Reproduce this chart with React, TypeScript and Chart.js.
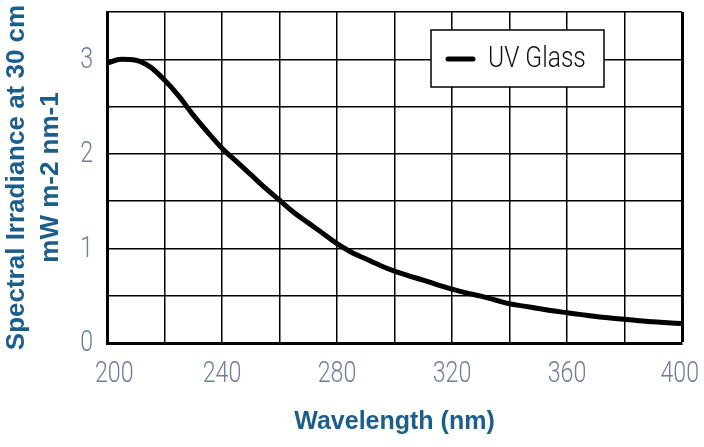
import React, { useEffect, useRef } from "react";
import { Chart, registerables } from "chart.js";

Chart.register(...registerables);

const WAVELENGTHS = [
  200, 205, 210, 215, 220, 225, 230, 235, 240, 245, 250, 255, 260, 265, 270, 275, 280, 285, 290, 295,
  300, 305, 310, 315, 320, 325, 330, 335, 340, 345, 350, 355, 360, 365, 370, 375, 380, 385, 390, 395, 400,
];
const IRRADIANCE = [
  2.96, 3.0, 2.99, 2.92, 2.78, 2.61, 2.41, 2.23, 2.06, 1.92, 1.78, 1.64, 1.51, 1.38, 1.27, 1.16, 1.05, 0.96,
  0.89, 0.82, 0.76, 0.71, 0.665, 0.615, 0.57, 0.53, 0.495, 0.455, 0.415, 0.39, 0.365, 0.34, 0.32, 0.3, 0.28,
  0.265, 0.25, 0.235, 0.225, 0.215, 0.205,
];
const SERIES_LABEL = "UV Glass";
const X_TITLE = "Wavelength (nm)";
const Y_TITLE = ["Spectral Irradiance at 30 cm", "mW m-2 nm-1"];
const X_LABELED_TICKS = [200, 240, 280, 320, 360, 400];
const Y_LABELED_TICKS = [0, 1, 2, 3];

const TITLE_COLOR = "#1b5e8c";
const TICK_COLOR = "#6f7c9c";
const LIGHT_FONT = "300 29px Roboto, 'Liberation Sans', sans-serif";
const CONDENSE = 0.8;

function drawCondensed(ctx: any, text: string, cx: number, cy: number, font: string, color: string, align: "left" | "center" | "right", squeeze: number) {
  ctx.save();
  ctx.font = font;
  ctx.fillStyle = color;
  ctx.textBaseline = "middle";
  ctx.textAlign = align;
  ctx.translate(cx, cy);
  ctx.scale(squeeze, 1);
  ctx.fillText(text, 0, 0);
  ctx.restore();
}

const tickLabelPlugin = {
  id: "condensedTicks",
  afterDraw(chart: any) {
    const { ctx, chartArea, scales } = chart;
    const xs = scales.x;
    const ys = scales.y;
    ctx.save();
    ctx.font = LIGHT_FONT;
    X_LABELED_TICKS.forEach((v) => {
      const text = String(v);
      const w = ctx.measureText(text).width * CONDENSE;
      let cx = xs.getPixelForValue(v);
      cx = Math.max(cx, chartArea.left - 12 + w / 2);
      cx = Math.min(cx, chartArea.right + 17 - w / 2);
      drawCondensed(ctx, text, cx, chartArea.bottom + 32, LIGHT_FONT, TICK_COLOR, "center", CONDENSE);
    });
    Y_LABELED_TICKS.forEach((v) => {
      const cy = ys.getPixelForValue(v) + 1;
      drawCondensed(ctx, String(v), chartArea.left - 14, cy, LIGHT_FONT, TICK_COLOR, "right", CONDENSE);
    });
    ctx.restore();
  },
};

const legendPlugin = {
  id: "insideLegend",
  afterDraw(chart: any) {
    const { ctx, chartArea } = chart;
    const x0 = chartArea.right - 251;
    const y0 = chartArea.top + 18;
    const w = 173;
    const h = 57;
    ctx.save();
    ctx.fillStyle = "#ffffff";
    ctx.fillRect(x0, y0, w, h);
    ctx.strokeStyle = "#000000";
    ctx.lineWidth = 1.5;
    ctx.strokeRect(x0, y0, w, h);
    ctx.beginPath();
    ctx.lineWidth = 5;
    ctx.lineCap = "round";
    ctx.moveTo(x0 + 17, y0 + 29);
    ctx.lineTo(x0 + 42, y0 + 29);
    ctx.stroke();
    ctx.restore();
    drawCondensed(ctx, chart.data.datasets[0].label, x0 + 57, y0 + 29, "300 30px Roboto, 'Liberation Sans', sans-serif", "#111111", "left", 0.82);
  },
};

export default function App() {
  const canvasRef = useRef<HTMLCanvasElement | null>(null);

  useEffect(() => {
    document.body.style.margin = "0";
    const canvas = canvasRef.current;
    if (!canvas) return;
    const chart = new Chart(canvas, {
      type: "line",
      data: {
        datasets: [
          {
            label: SERIES_LABEL,
            data: WAVELENGTHS.map((x, i) => ({ x, y: IRRADIANCE[i] })),
            borderColor: "#000000",
            borderWidth: 5,
            pointRadius: 0,
            cubicInterpolationMode: "monotone",
            fill: false,
          },
        ],
      },
      options: {
        responsive: false,
        animation: false,
        devicePixelRatio: 1,
        layout: { padding: { top: 12, right: 22, left: 0, bottom: 0 } },
        plugins: {
          legend: { display: false },
          tooltip: { enabled: false },
        },
        scales: {
          x: {
            type: "linear",
            min: 200,
            max: 400,
            afterFit(scale: any) {
              scale.height = 104;
              scale.paddingLeft = 0;
              scale.paddingRight = 0;
              scale.paddingTop = 0;
              scale.paddingBottom = 0;
            },
            border: { display: true, color: "#000000", width: 3 },
            grid: {
              color: "#000000",
              lineWidth: (c: any) => (c.tick && c.tick.value === 400 ? 3 : 1.5),
              drawTicks: false,
            },
            ticks: {
              display: false,
              stepSize: 20,
              autoSkip: false,
              maxRotation: 0,
            },
            title: {
              display: true,
              text: X_TITLE,
              color: TITLE_COLOR,
              font: { family: "'Liberation Sans', Arial, sans-serif", size: 25, weight: "bold", lineHeight: 1.2 },
              padding: { top: 0, bottom: 10 },
            },
          },
          y: {
            type: "linear",
            min: 0,
            max: 3.5,
            afterFit(scale: any) {
              scale.width = 107;
              scale.paddingLeft = 0;
              scale.paddingRight = 0;
              scale.paddingTop = 0;
              scale.paddingBottom = 0;
            },
            border: { display: true, color: "#000000", width: 3 },
            grid: {
              color: "#000000",
              lineWidth: 1.5,
              drawTicks: false,
            },
            ticks: {
              display: false,
              stepSize: 0.5,
              autoSkip: false,
            },
            title: {
              display: true,
              text: Y_TITLE,
              color: TITLE_COLOR,
              font: { family: "'Liberation Sans', Arial, sans-serif", size: 26, weight: "bold", lineHeight: 1.3 },
              padding: { top: 0, bottom: 0 },
            },
          },
        },
      } as any,
      plugins: [tickLabelPlugin, legendPlugin],
    });
    return () => chart.destroy();
  }, []);

  return (
    <div style={{ position: "fixed", left: 0, top: 0, width: 704, height: 447, background: "#ffffff" }}>
      <canvas ref={canvasRef} width={704} height={447} style={{ width: 704, height: 447 }} />
    </div>
  );
}
